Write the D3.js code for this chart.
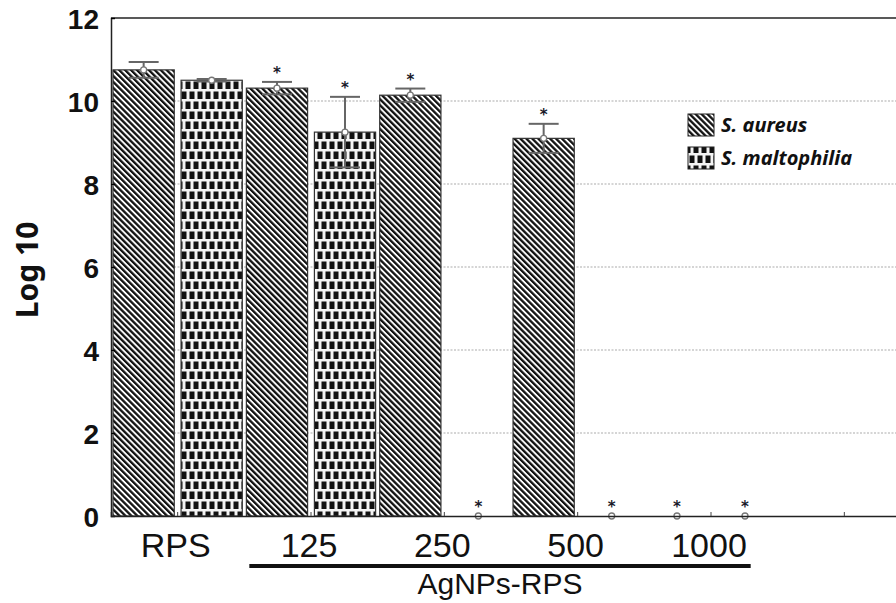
<!DOCTYPE html>
<html>
<head>
<meta charset="utf-8">
<script src="https://cdn.jsdelivr.net/npm/d3@7"></script>
<style>
  body { margin: 0; background: #fff; }
  svg { display: block; }
</style>
</head>
<body>
<div id="chart"></div>
<script>
// groups on the x axis (last slot is empty in the original)
let groups = ['RPS', '125', '250', '500', '1000', ''];
let series = ['S. aureus', 'S. maltophilia'];

// mean log10 counts
let aureus = [10.75, 10.31, 10.14, 9.1, 0];
let malto = [10.5, 9.25, 0, 0, 0];
// error (+/-)
let aureusErr = [0.19, 0.15, 0.16, 0.35, 0];
let maltoErr = [0.03, 0.85, 0, 0, 0];
// significance star
let aureusSig = [false, true, true, true, true];
let maltoSig = [false, true, true, true, true];

let yTicks = [0, 2, 4, 6, 8, 10, 12];

let W = 896, H = 603;
let m = {left: 111, top: 18, right: 911, bottom: 516};

let svg = d3.select('#chart').append('svg').attr('width', W).attr('height', H);
let defs = svg.append('defs');

// diagonal stripes for S. aureus
let pa = defs.append('pattern').attr('id', 'pat-aureus')
  .attr('patternUnits', 'userSpaceOnUse').attr('width', 4.2).attr('height', 4.2)
  .attr('patternTransform', 'rotate(-45)');
pa.append('rect').attr('width', 4.2).attr('height', 4.2).attr('fill', '#fff');
pa.append('rect').attr('x', 0).attr('width', 2.3).attr('height', 4.2).attr('fill', '#111');

// brick pattern for S. maltophilia
let pm = defs.append('pattern').attr('id', 'pat-malto')
  .attr('patternUnits', 'userSpaceOnUse').attr('width', 8).attr('height', 20);
pm.append('rect').attr('width', 8).attr('height', 20).attr('fill', '#f4f4f4');
pm.append('rect').attr('x', 1.5).attr('y', 1.5).attr('width', 5).attr('height', 7.5).attr('fill', '#111');
pm.append('rect').attr('x', -2.5).attr('y', 11.5).attr('width', 5).attr('height', 7.5).attr('fill', '#111');
pm.append('rect').attr('x', 5.5).attr('y', 11.5).attr('width', 5).attr('height', 7.5).attr('fill', '#111');

let fills = ['url(#pat-aureus)', 'url(#pat-malto)'];

let x = d3.scaleBand().domain(groups).range([m.left, m.right]).paddingInner(0).paddingOuter(0);
let xs = d3.scaleBand().domain(series).range([0, x.bandwidth()]).paddingInner(0.1).paddingOuter(0.03);
let y = d3.scaleLinear().domain([0, 12]).range([m.bottom, m.top]);

// gridlines
svg.append('g').selectAll('line').data(yTicks.filter(d => d > 0 && d < 12)).join('line')
  .attr('x1', m.left).attr('x2', W)
  .attr('y1', d => y(d)).attr('y2', d => y(d))
  .attr('stroke', '#c8c8c8').attr('stroke-width', 1.5).attr('stroke-dasharray', '2,1.5');

// frame top line
svg.append('line').attr('x1', m.left).attr('x2', W).attr('y1', m.top).attr('y2', m.top)
  .attr('stroke', '#222').attr('stroke-width', 1.5);

let rows = [];
groups.slice(0, 5).forEach(function(g, i) {
  rows.push({g: g, s: series[0], v: aureus[i], e: aureusErr[i], sig: aureusSig[i], k: 0});
  rows.push({g: g, s: series[1], v: malto[i], e: maltoErr[i], sig: maltoSig[i], k: 1});
});

// bars
svg.append('g').selectAll('rect').data(rows.filter(d => d.v > 0)).join('rect')
  .attr('x', d => x(d.g) + xs(d.s))
  .attr('y', d => y(d.v))
  .attr('width', xs.bandwidth())
  .attr('height', d => y(0) - y(d.v))
  .attr('fill', d => fills[d.k])
  .attr('stroke', '#333').attr('stroke-width', 1.2);

// error bars
let eb = svg.append('g').attr('stroke', '#666').attr('stroke-width', 2);
rows.filter(d => d.v > 0).forEach(function(d) {
  let cx = x(d.g) + xs(d.s) + xs.bandwidth() / 2;
  eb.append('line').attr('x1', cx).attr('x2', cx).attr('y1', y(d.v + d.e)).attr('y2', y(d.v - d.e));
  eb.append('line').attr('x1', cx - 15).attr('x2', cx + 15).attr('y1', y(d.v + d.e)).attr('y2', y(d.v + d.e));
  eb.append('line').attr('x1', cx - 15).attr('x2', cx + 15).attr('y1', y(d.v - d.e)).attr('y2', y(d.v - d.e));
});

// mean markers
svg.append('g').selectAll('circle').data(rows).join('circle')
  .attr('cx', d => x(d.g) + xs(d.s) + xs.bandwidth() / 2)
  .attr('cy', d => y(d.v))
  .attr('r', 3)
  .attr('fill', '#fff').attr('stroke', '#777').attr('stroke-width', 1.3);

// significance stars
svg.append('g').selectAll('text').data(rows.filter(d => d.sig)).join('text')
  .attr('x', d => x(d.g) + xs(d.s) + xs.bandwidth() / 2)
  .attr('y', d => y(d.v + d.e) - 4)
  .attr('text-anchor', 'middle')
  .attr('font-family', 'DejaVu Sans').attr('font-weight', 'bold').attr('font-size', 15)
  .attr('fill', '#1a1a2a')
  .text('*');

// axes
let yAxis = svg.append('g').attr('transform', 'translate(' + m.left + ',0)')
  .call(d3.axisLeft(y).tickValues(yTicks).tickSize(-4).tickPadding(12));
yAxis.select('.domain').attr('stroke', '#222').attr('stroke-width', 1.5);
yAxis.selectAll('text').attr('font-family', 'Liberation Sans').attr('font-weight', 'bold')
  .attr('font-size', 28).attr('fill', '#111').attr('dy', '0.36em');

let xAxis = svg.append('g').attr('transform', 'translate(0,' + m.bottom + ')')
  .call(d3.axisBottom(x).tickSize(-4).tickFormat(''));
xAxis.select('.domain').attr('stroke', '#222').attr('stroke-width', 1.5);
xAxis.selectAll('.tick line').attr('stroke', '#444');

// x labels
svg.append('g').selectAll('text').data(groups.filter(d => d !== '')).join('text')
  .attr('x', d => x(d) + x.bandwidth() / 2 - 2)
  .attr('y', 557)
  .attr('text-anchor', 'middle')
  .attr('font-family', 'Liberation Sans').attr('font-size', 34)
  .attr('fill', '#111')
  .text(d => d);

// treatment bracket
svg.append('line').attr('x1', x('125') + 5).attr('x2', x('1000') + x.bandwidth() - 27)
  .attr('y1', 566).attr('y2', 566).attr('stroke', '#111').attr('stroke-width', 4);
svg.append('text').attr('x', 500).attr('y', 594).attr('text-anchor', 'middle')
  .attr('font-family', 'Liberation Sans').attr('font-size', 30)
  .attr('fill', '#111').text('AgNPs-RPS');

// y title
svg.append('text').attr('transform', 'translate(38,270) rotate(-90)')
  .attr('text-anchor', 'middle')
  .attr('font-family', 'Noto Sans').attr('font-weight', 'bold').attr('font-size', 30)
  .attr('fill', '#111').text('Log 10');

// legend
let lg = svg.append('g').attr('transform', 'translate(688,114)');
series.forEach(function(s, i) {
  lg.append('rect').attr('x', 0).attr('y', i * 33).attr('width', 26).attr('height', 22)
    .attr('fill', fills[i]).attr('stroke', '#222').attr('stroke-width', 1);
  lg.append('text').attr('x', 33).attr('y', i * 33 + 18)
    .attr('font-family', 'Noto Sans').attr('font-weight', 'bold').attr('font-style', 'italic')
    .attr('font-size', 20).attr('fill', '#111').text(s);
});
</script>
</body>
</html>
